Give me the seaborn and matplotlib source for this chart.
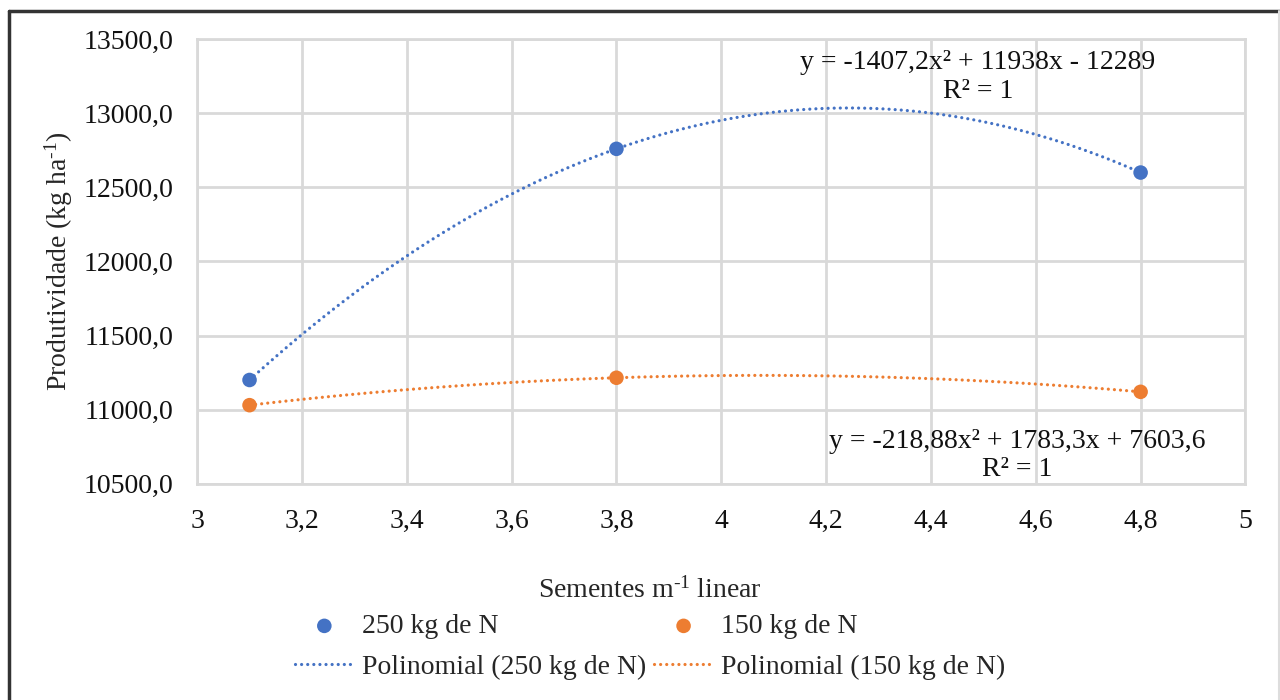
import matplotlib
matplotlib.use("Agg")
import matplotlib.pyplot as plt
from matplotlib.lines import Line2D
from matplotlib.ticker import FuncFormatter, MultipleLocator
import seaborn as sns
import pandas as pd

# data
seeds = [3.1, 3.8, 4.8]
yield_250 = [11200, 12760, 12600]
yield_150 = [11030, 11215, 11120]
eq_250 = "y = -1407,2x² + 11938x - 12289\nR² = 1"
eq_150 = "y = -218,88x² + 1783,3x + 7603,6\nR² = 1"

blue = "#4472C4"
orange = "#ED7D31"
grid_col = "#D9D9D9"

sns.set_theme(style="white")
plt.rcParams["font.family"] = ["Liberation Serif", "DejaVu Serif"]
plt.rcParams["mathtext.fontset"] = "custom"
plt.rcParams["mathtext.rm"] = "Liberation Serif"
plt.rcParams["mathtext.it"] = "Liberation Serif:italic"
fs = 20
dotted = (0, (0.01, 1.9))

df = pd.DataFrame({"x": seeds, "y250": yield_250, "y150": yield_150})

fig = plt.figure(figsize=(12.8, 7), dpi=100)
ax = fig.add_axes([0.154, 0.309, 0.819, 0.635])

handles = {}
for col, c, lab in [("y250", blue, "250 kg de N"), ("y150", orange, "150 kg de N")]:
    sns.regplot(data=df, x="x", y=col, order=2, ci=None, scatter=False, ax=ax,
                line_kws=dict(color=c, lw=2.3, linestyle=dotted,
                              dash_capstyle="round", zorder=3))
    handles[f"Polinomial ({lab})"] = ax.lines[-1]
    sns.scatterplot(data=df, x="x", y=col, color=c, s=110, edgecolor="none",
                    ax=ax, zorder=4, legend=False)
    handles[lab] = ax.collections[-1]

ax.set_xlim(3, 5)
ax.set_ylim(10500, 13500)
ax.xaxis.set_major_locator(MultipleLocator(0.2))
ax.yaxis.set_major_locator(MultipleLocator(500))
ax.xaxis.set_major_formatter(FuncFormatter(lambda v, p: f"{v:g}".replace(".", ",")))
ax.yaxis.set_major_formatter(FuncFormatter(lambda v, p: f"{v:.1f}".replace(".", ",")))
ax.grid(True, color=grid_col, lw=2)
for s in ax.spines.values():
    s.set_color(grid_col)
    s.set_linewidth(2)
ax.tick_params(axis="both", length=0, labelsize=fs, colors="#111111")
ax.tick_params(axis="y", pad=17)
ax.tick_params(axis="x", pad=18)
ax.set_xlabel("")
ax.set_ylabel("Produtividade (kg ha$^{\\text{-1}}$)", fontsize=fs, labelpad=6)

ax.text(4.49, 13245, eq_250, ha="center", va="center", fontsize=fs,
        linespacing=1.2, color="#111111")
ax.text(4.565, 10690, eq_150, ha="center", va="center", fontsize=fs,
        linespacing=1.2, color="#111111")

fig.text(0.508, 0.157, "Sementes m$^{\\text{-1}}$ linear", ha="center",
         va="center", fontsize=fs)

keys = ["250 kg de N", "Polinomial (250 kg de N)", "150 kg de N", "Polinomial (150 kg de N)"]
fig.legend([handles[k] for k in keys], keys, loc="center", ncol=2,
           bbox_to_anchor=(0.508, 0.076), frameon=False, fontsize=fs,
           handlelength=2.1, handletextpad=0.3, columnspacing=0.3,
           labelspacing=0.55, borderpad=0)

# chart frame
fig.add_artist(Line2D([0.007, 1], [0.985, 0.985], color="#333333", lw=2.5,
                      transform=fig.transFigure))
fig.add_artist(Line2D([0.007, 0.007], [0, 0.985], color="#333333", lw=2.5,
                      transform=fig.transFigure))
fig.add_artist(Line2D([0.999, 0.999], [0, 0.985], color="#DDDDDD", lw=1.5,
                      transform=fig.transFigure))

fig.savefig("out.png", dpi=100, facecolor="white")
